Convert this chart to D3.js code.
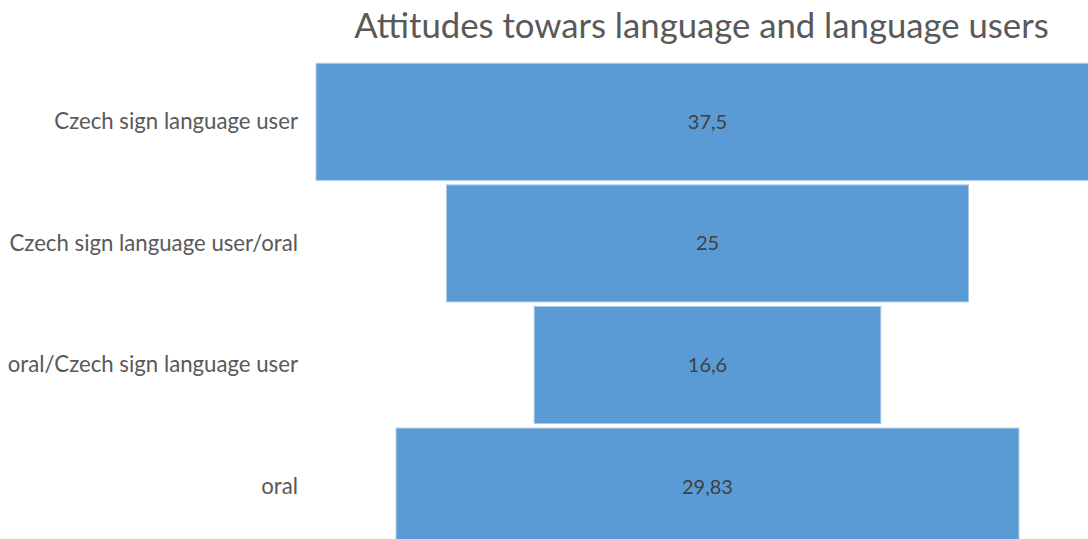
<!DOCTYPE html>
<html>
<head>
<meta charset="utf-8">
<script src="https://cdn.jsdelivr.net/npm/d3@7"></script>
<style>
  html, body { margin: 0; padding: 0; background: #ffffff; }
  svg { display: block; }
</style>
</head>
<body>
<svg id="chart" width="1088" height="539"></svg>
<script>
// Funnel chart data
const title = "Attitudes towars language and language users";
const categories = [
  "Czech sign language user",
  "Czech sign language user/oral",
  "oral/Czech sign language user",
  "oral"
];
const values = [37.5, 25, 16.6, 29.83];
const valueLabels = ["37,5", "25", "16,6", "29,83"];

const W = 1088, H = 539;
const plot = { left: 316, top: 63.3, width: 783, step: 121.6, gap: 4.6 };
const centerX = plot.left + plot.width / 2;

const svg = d3.select("#chart");

// width of each funnel bar is proportional to its value
const w = d3.scaleLinear()
  .domain([0, d3.max(values)])
  .range([0, plot.width]);

const y = d3.scaleBand()
  .domain(categories)
  .range([plot.top, plot.top + plot.step * categories.length - plot.gap])
  .paddingInner(plot.gap / plot.step)
  .paddingOuter(0);

const rows = categories.map((c, i) => ({ cat: c, value: values[i], label: valueLabels[i] }));

svg.append("g")
  .selectAll("rect")
  .data(rows)
  .join("rect")
  .attr("x", d => centerX - w(d.value) / 2)
  .attr("y", d => y(d.cat))
  .attr("width", d => w(d.value))
  .attr("height", y.bandwidth())
  .attr("fill", "#5B9BD5")
  .attr("stroke", "#A9C9EA")
  .attr("stroke-width", 1);

// value labels centred in each bar
svg.append("g")
  .selectAll("text")
  .data(rows)
  .join("text")
  .attr("x", centerX)
  .attr("y", d => y(d.cat) + y.bandwidth() / 2)
  .attr("dy", "0.35em")
  .attr("text-anchor", "middle")
  .attr("font-family", "Lato, 'Open Sans', sans-serif")
  .attr("font-size", 20)
  .attr("fill", "#404040")
  .text(d => d.label);

// category axis on the left, without line or ticks
const axis = svg.append("g")
  .attr("transform", `translate(${plot.left - 18},0)`)
  .call(d3.axisLeft(y).tickSize(0).tickPadding(0));
axis.select(".domain").remove();
axis.selectAll("text")
  .attr("font-family", "Lato, 'Open Sans', sans-serif")
  .attr("font-size", 22.2)
  .attr("fill", "#595959");

svg.append("text")
  .attr("x", 701.5)
  .attr("y", 38)
  .attr("text-anchor", "middle")
  .attr("font-family", "Lato, 'Open Sans', sans-serif")
  .attr("font-weight", 400)
  .attr("font-size", 34.7)
  .attr("fill", "#595959")
  .text(title);
</script>
</body>
</html>
